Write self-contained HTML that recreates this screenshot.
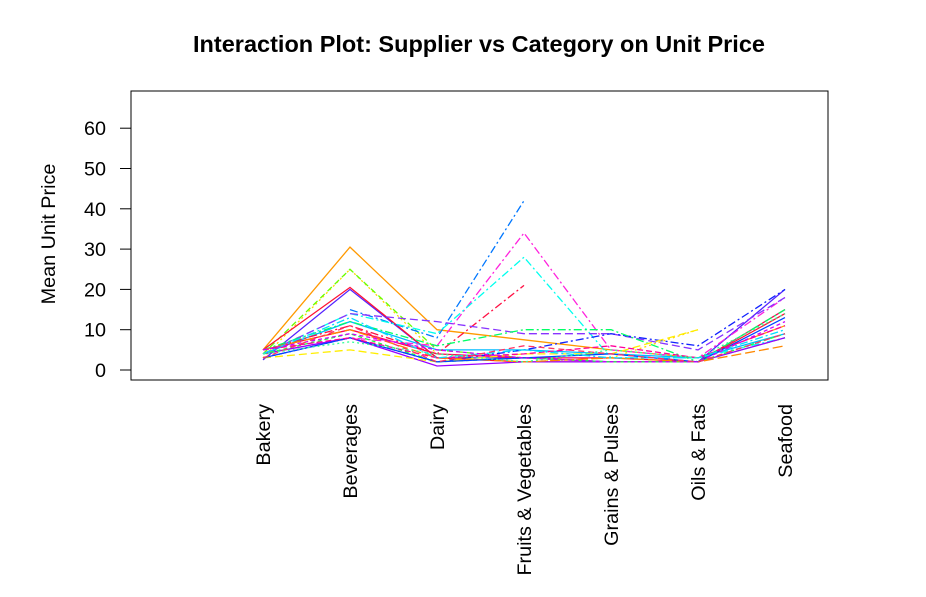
<!DOCTYPE html>
<html><head><meta charset="utf-8"><style>
body{margin:0;background:#fff;}
svg{display:block;font-family:"Liberation Sans",Arial,sans-serif;}
</style></head><body>
<svg id="chart" width="926" height="597">
<text x="479" y="52" text-anchor="middle" font-size="23.5" font-weight="bold">Interaction Plot: Supplier vs Category on Unit Price</text>
<rect x="131" y="91" width="697" height="289" fill="none" stroke="#000" stroke-width="1"/>
<text transform="translate(55,234) rotate(-90)" text-anchor="middle" font-size="19.8">Mean Unit Price</text>
<g id="yaxis"></g>
<g id="xaxis"></g>
<g id="lines"></g>
</svg>
<script>
const categories=["Bakery","Beverages","Dairy","Fruits & Vegetables","Grains & Pulses","Oils & Fats","Seafood"];
const yTicks=[0,10,20,30,40,50,60];
const s1=[5,30.5,10,7.5,5,3,11];
const s2=[3,25,4,2,3,10,null];
const s3=[4,25,5,3,2,2,8];
const s4=[2.5,20,3,3,2,2,20];
const s5=[5,20.5,3,2,2,2,14];
const s6=[4,12,5,5,4,3,9];
const s7=[5,10,4,3,3,2,15];
const s8=[null,15,8,42,null,null,null];
const s9=[4,8,6,34,5,3,18];
const s10=[4,14,9,28,3,3,8];
const s11=[5,11,4,21,null,null,null];
const s12=[4,14,12,9,9,5,18];
const s13=[3,8,2,5,9,6,20];
const s14=[5,12,6,10,10,2,15];
const s15=[4,8,1,2,2,2,8];
const s16=[3,5,2,4,4,10,null];
const s17=[4,9,2,3,2,2,9];
const s18=[5,10,3,2,3,2,6];
const s19=[3,8,2,3,4,2,13];
const s20=[5,8,3,4,6,3,11];
const s21=[4,13,3,5,3,3,10];
const s22=[5,9,5,3,2,2,12];
const s23=[3,11,2,6,4,2,9];
const s24=[4,7,4,2,5,3,14];
const seriesList=[s1,s2,s3,s4,s5,s6,s7,s8,s9,s10,s11,s12,s13,s14,s15,s16,s17,s18,s19,s20,s21,s22,s23,s24];
const colors=["#FF9900","#FFD700","#66FF00","#5522FF","#FF1133","#00BBFF","#FF0055","#0077FF","#FF22DD","#00FFEE","#FF1144","#8833FF","#1122FF","#00FF66","#9900FF","#FFEE00","#22FF44","#FF8800","#0044FF","#FF0099","#00DDFF","#CC00FF","#FF3366","#33FF99"];
const dashes=["","2,3","6,4","","","","","8,3,2,3","8,3,2,3","8,3,2,3","8,3,2,3","8,4","8,3,2,3","8,3,2,3","","8,4","4,3","10,4","","6,3","8,3,2,3","4,3","6,4","2,3"];
const NS="http://www.w3.org/2000/svg";
function xs(i){return 263+i*87;}
function ys(v){return 370-v*4.03;}
const ya=document.getElementById('yaxis');
yTicks.forEach(t=>{
 const l=document.createElementNS(NS,'line');
 l.setAttribute('x1',120);l.setAttribute('x2',131);l.setAttribute('y1',ys(t));l.setAttribute('y2',ys(t));l.setAttribute('stroke','#000');
 
 
 ya.appendChild(l);
 const tx=document.createElementNS(NS,'text');
 tx.setAttribute('x',106);tx.setAttribute('y',ys(t)+7);tx.setAttribute('text-anchor','end');tx.setAttribute('font-size','19.8');
 tx.textContent=t;
 
 
 ya.appendChild(tx);
});
const xa=document.getElementById('xaxis');
categories.forEach((c,i)=>{
 const tx=document.createElementNS(NS,'text');
 tx.setAttribute('transform','translate('+(xs(i)+7)+',404) rotate(-90)');
 tx.setAttribute('text-anchor','end');tx.setAttribute('font-size','19.8');
 tx.textContent=c;
 
 
 xa.appendChild(tx);
});
const lg=document.getElementById('lines');
seriesList.forEach((s,k)=>{
 let d='';let pen=false;
 s.forEach((v,i)=>{
  if(v===null){pen=false;return;}
  d+=(pen?'L':'M')+xs(i)+','+ys(v).toFixed(1)+' ';pen=true;
 });
 const p=document.createElementNS(NS,'path');
 p.setAttribute('d',d);p.setAttribute('fill','none');p.setAttribute('stroke',colors[k]);p.setAttribute('stroke-width','1.3');
 if(dashes[k])p.setAttribute('stroke-dasharray',dashes[k]);
 
 
 lg.appendChild(p);
});
</script>
</body></html>
